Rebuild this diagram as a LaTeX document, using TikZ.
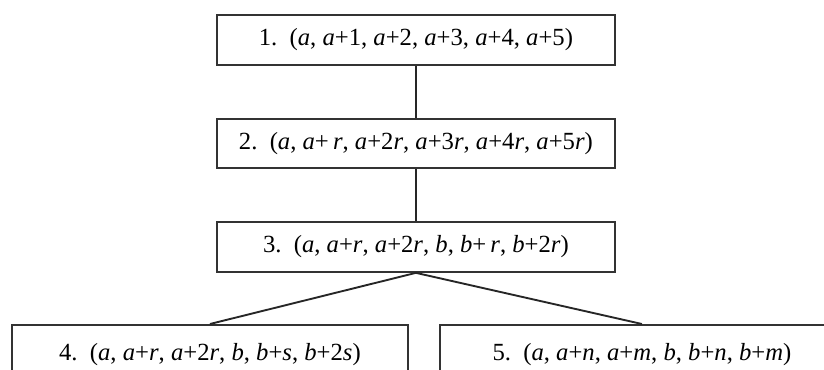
\documentclass[tikz,border=0pt]{standalone}
\usepackage{fontspec}
\setmainfont{Liberation Serif}
\newcommand\vi[1]{\textit{#1}}
\tikzset{
  boxstyle/.style={draw=black!80, line width=1.4pt, inner sep=0pt, font=\fontsize{18.5pt}{20pt}\selectfont},
  linkstyle/.style={draw=black!85, line width=1.4pt}
}
\begin{document}
\begin{tikzpicture}[x=0.75pt,y=-0.75pt]
\useasboundingbox (0,0) rectangle (824,370);
\clip (0,0) rectangle (824,370);
\fill[white] (0,0) rectangle (824,370);
\node[boxstyle, anchor=north west, minimum width=298.5pt, minimum height=37.5pt] (b1) at (216,14)
  {1.\enspace (\vi{a}, \vi{a}+1, \vi{a}+2, \vi{a}+3, \vi{a}+4, \vi{a}+5)};
\node[boxstyle, anchor=north west, minimum width=298.5pt, minimum height=37pt] (b2) at (216,118)
  {2.\enspace (\vi{a}, \vi{a}+\,\vi{r}, \vi{a}+2\vi{r}, \vi{a}+3\vi{r}, \vi{a}+4\vi{r}, \vi{a}+5\vi{r})};
\node[boxstyle, anchor=north west, minimum width=298.5pt, minimum height=37.5pt] (b3) at (216,221)
  {3.\enspace (\vi{a}, \vi{a}+\vi{r}, \vi{a}+2\vi{r}, \vi{b}, \vi{b}+\,\vi{r}, \vi{b}+2\vi{r})};
\node[boxstyle, anchor=north west, minimum width=297pt, minimum height=45pt] (b4) at (11,324)
  {4.\enspace (\vi{a}, \vi{a}+\vi{r}, \vi{a}+2\vi{r}, \vi{b}, \vi{b}+\vi{s}, \vi{b}+2\vi{s})};
\node[boxstyle, anchor=north west, minimum width=303pt, minimum height=45pt] (b5) at (439,324)
  {5.\enspace (\vi{a}, \vi{a}+\vi{n}, \vi{a}+\vi{m}, \vi{b}, \vi{b}+\vi{n}, \vi{b}+\vi{m})};
\draw[linkstyle] (b1.south) -- (b2.north);
\draw[linkstyle] (b2.south) -- (b3.north);
\draw[linkstyle] (b3.south) -- (b4.north);
\draw[linkstyle] (b3.south) -- (b5.north);
\end{tikzpicture}
\end{document}
